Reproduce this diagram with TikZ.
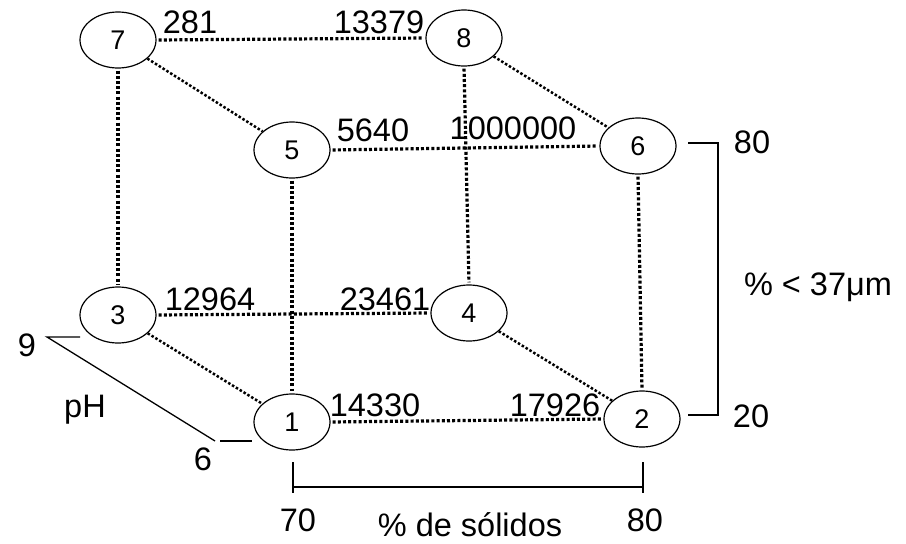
\documentclass[tikz,border=0pt]{standalone}
\usepackage{fontspec}
\setmainfont{Liberation Sans}
\usetikzlibrary{shapes.geometric}
\begin{document}
\begin{tikzpicture}[x=1pt,y=-1pt,
  vert/.style={draw,ellipse,line width=1.2pt,minimum width=76pt,minimum height=56pt,inner sep=0pt,font=\fontsize{27}{27}\selectfont},
  num/.style={inner sep=0pt,font=\fontsize{32.5}{33}\selectfont},
  dotline/.style={line width=3.2pt,dash pattern=on 3pt off 2.2pt,shorten <=2pt,shorten >=2pt},
  diagline/.style={line width=2.5pt,dash pattern=on 2.5pt off 2pt},
  axis/.style={line width=1.3pt}]
\useasboundingbox (0,0) rectangle (906,544);
% vertices
\node[vert] (n7) at (118,40) {7};
\node[vert] (n8) at (464,38) {8};
\node[vert] (n5) at (292,150) {5};
\node[vert] (n6) at (638,146) {6};
\node[vert] (n3) at (118,315) {3};
\node[vert] (n4) at (469,313) {4};
\node[vert] (n1) at (292,422) {1};
\node[vert] (n2) at (642,419) {2};
% edges
\draw[dotline] (n7.east) -- (n8.west);
\draw[dotline] (n5.east) -- (n6.west);
\draw[dotline] (n3.east) -- (n4.west);
\draw[dotline] (n1.east) -- (n2.west);
\draw[dotline] (n7.south) -- (n3.north);
\draw[dotline] (n5.south) -- (n1.north);
\draw[dotline] (n8.south) -- (n4.north);
\draw[dotline] (n6.south) -- (n2.north);
\draw[diagline] (n7) -- (n5);
\draw[diagline] (n8) -- (n6);
\draw[diagline] (n3) -- (n1);
\draw[diagline] (n4) -- (n2);
% values
\node[num] (v281) at (190,22) {281};
\node[num] (v13379) at (379,22) {13379};
\node[num] (v5640) at (373,130) {5640};
\node[num] (v1000000) at (513,128) {1000000};
\node[num] (v12964) at (210,299) {12964};
\node[num] (v23461) at (385,299) {23461};
\node[num] (v14330) at (375,405) {14330};
\node[num] (v17926) at (555,405) {17926};
% right axis
\coordinate (r1) at (688,143);
\coordinate (r2) at (718,143);
\coordinate (r3) at (718,415);
\coordinate (r4) at (688,415);
\draw[axis] (r1) -- (r2) -- (r3) -- (r4);
\node[num] (t80r) at (752,142) {80};
\node[num] (t20r) at (751,416) {20};
\node[num] (tmu) at (818,287) {\%~<~37μm};
% bottom axis
\coordinate (b1) at (293,462);
\coordinate (b1b) at (293,493);
\coordinate (b2) at (643,462);
\coordinate (b2b) at (643,493);
\coordinate (b3) at (293,487);
\coordinate (b4) at (643,487);
\draw[axis] (b1) -- (b1b);
\draw[axis] (b2) -- (b2b);
\draw[axis] (b3) -- (b4);
\node[num] (t70) at (298,520) {70};
\node[num] (t80b) at (645,520) {80};
\node[num] (tsol) at (470,525) {\% de sólidos};
% pH axis
\coordinate (p1) at (80,337);
\coordinate (p2) at (47,337);
\coordinate (p3) at (215,441);
\coordinate (p4) at (220,441);
\coordinate (p5) at (252,441);
\draw[axis] (p1) -- (p2) -- (p3);
\draw[axis] (p4) -- (p5);
\node[num] (t9) at (27,345) {9};
\node[num] (tpH) at (85,410) {pH};
\node[num] (t6) at (203,459) {6};
\end{tikzpicture}
\end{document}
